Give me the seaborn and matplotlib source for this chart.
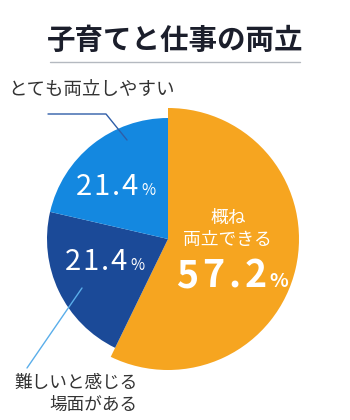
import matplotlib
matplotlib.use("Agg")
import matplotlib.pyplot as plt
import seaborn as sns

# ---- data ----
categories = ["概ね両立できる", "難しいと感じる場面がある", "とても両立しやすい"]
values = [57.2, 21.4, 21.4]
colors = ["#F6A520", "#1B4A98", "#1488E0"]
title = "子育てと仕事の両立"

sns.set_theme(style="white")
plt.rcParams['font.family'] = ['Noto Sans CJK JP', 'DejaVu Sans']

W, H = 350, 420
fig = plt.figure(figsize=(W / 100, H / 100), dpi=100)
ax = fig.add_axes([0, 0, 1, 1])

def Y(p):
    return H - p

cx, cy, r = 168, Y(239), 121
wedges, _ = ax.pie(values, colors=colors, startangle=90, counterclock=False,
                   center=(cx, cy), radius=r,
                   wedgeprops=dict(linewidth=0))
wedges[0].set_radius(131)

ax.set_xlim(0, W)
ax.set_ylim(0, H)
ax.set_aspect('equal')
ax.axis('off')
renderer = fig.canvas.get_renderer()

# title and underline
ax.text(175, Y(41), title, ha='center', va='center', fontsize=20.5,
        fontweight='bold', color='#1b1e2b')
ax.plot([50, 300], [Y(62), Y(62)], color='#b4b9c0', lw=1)

# outside labels
ax.text(8, Y(90), categories[2], ha='left', va='center', fontsize=13.3, color='#333333')
ax.plot([48, 106, 127], [Y(114), Y(114), Y(140)], color='#2f5ea8', lw=1)

ax.text(138, Y(383), "難しいと感じる", ha='right', va='center', fontsize=12.7, color='#333333')
ax.text(138, Y(405), "場面がある", ha='right', va='center', fontsize=12.7, color='#333333')
ax.plot([27, 82], [Y(368), Y(288)], color='#5aaeea', lw=1)

# slice labels with letter spacing
def spaced(x0, yb, s, fs, sp, weight='normal'):
    x = x0
    for ch in s:
        t = ax.text(x, Y(yb), ch, ha='left', va='baseline', fontsize=fs,
                    color='white', fontweight=weight)
        x += t.get_window_extent(renderer).width + sp
    return x

def pct(x0, yb, v, fs, pfs, sp, gap, weight='normal'):
    xe = spaced(x0, yb, f"{v:.1f}", fs, sp, weight)
    ax.text(xe - sp + gap, Y(yb), "%", ha='left', va='baseline', fontsize=pfs,
            color='white', fontweight=weight)

pct(76, 195, values[2], 21, 11, 1.5, 4)
pct(65, 270, values[1], 21, 11, 1.5, 4)

ax.text(228, Y(218), "概ね", ha='center', va='center', fontsize=12.8, color='white')
ax.text(227, Y(240), "両立できる", ha='center', va='center', fontsize=12.8, color='white')
pct(176, 287, values[0], 27, 14, 4, 3, weight='bold')

fig.savefig("out.png", dpi=100, facecolor='white')
